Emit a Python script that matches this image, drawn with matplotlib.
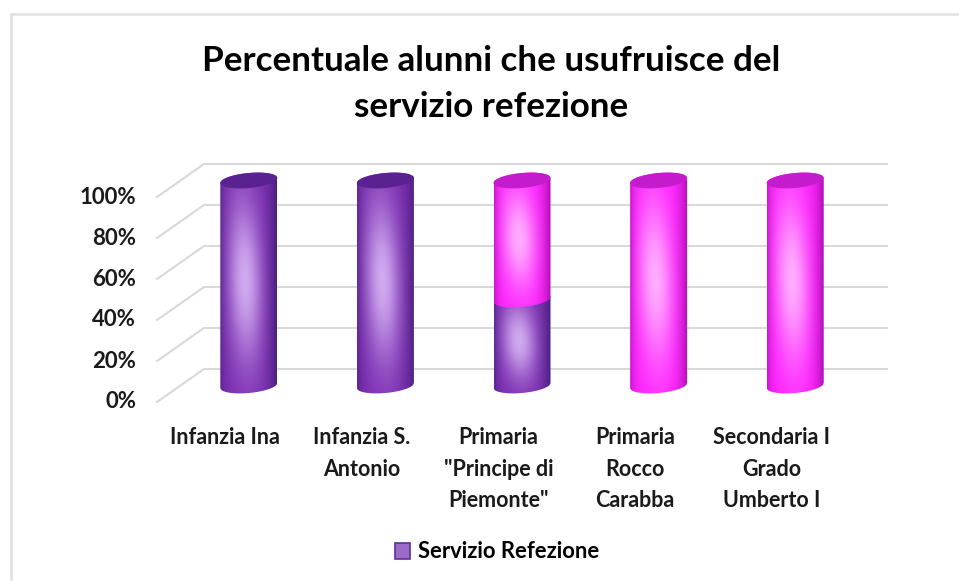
import numpy as np
import matplotlib
matplotlib.use('Agg')
import matplotlib.pyplot as plt
from matplotlib.colors import to_rgb
from matplotlib.lines import Line2D
from matplotlib.patches import Patch, Polygon

categories = ['Infanzia Ina', 'Infanzia S.\nAntonio', 'Primaria\n"Principe di\nPiemonte"',
              'Primaria\nRocco\nCarabba', 'Secondaria I\nGrado\nUmberto I']
lower_vals = [100, 100, 42, 0, 0]
upper_vals = [0, 0, 58, 100, 100]
y_ticks = [0, 20, 40, 60, 80, 100]
y_labels = ['0%', '20%', '40%', '60%', '80%', '100%']

W, H = 959, 581
plt.rcParams['font.family'] = ['Lato', 'DejaVu Sans']
plt.rcParams['font.weight'] = 'bold'

purple = dict(base='#7a2cb0', dark='#47207a', light='#d0aaf0', cap='#5a2290')
magenta = dict(base='#ff22ff', dark='#a80fae', light='#ffacff', cap='#c41ccc')
grid_col = '#d9d9d9'

fig = plt.figure(figsize=(W / 100, H / 100), dpi=100)
# axes is the front plane of the 3d box
ax = fig.add_axes([157 / W, 1 - 402 / H, 683 / W, 205 / H])
ax.set_xlim(-0.5, 4.5)
ax.set_ylim(0, 100)

px_x = 5 / 683
px_y = 100 / 205
dep_x = 47 * px_x
dep_y = 33 * px_y
rx = 28.5 * px_x
ry = 7.5 * px_y
tilt = 2.5 * px_y

for t in y_ticks:
    ax.plot([-0.5, -0.5 + dep_x, 4.5 + dep_x], [t, t + dep_y, t + dep_y],
            color=grid_col, lw=1.5, clip_on=False, zorder=1)


def shade(c, nu=90, nv=220):
    u, v = np.meshgrid(np.linspace(-1, 1, nu), np.linspace(1, 0, nv))
    du = u + 0.12
    dv = v - 0.5 + 0.08 * u
    glow = np.exp(-(du / 0.62) ** 2 - (dv / 0.36) ** 2)
    edge = np.where(u > 0, np.abs(u) ** 3.5 * 0.95, np.abs(u) ** 6 * 0.6)
    img = np.zeros((nv, nu, 3))
    for k in range(3):
        col = to_rgb(c['base'])[k] * (1 - glow) + to_rgb(c['light'])[k] * glow
        img[:, :, k] = col * (1 - edge) + to_rgb(c['dark'])[k] * edge
    return img


def draw_segment(x, y0, y1, c, z):
    u = np.linspace(-1, 1, 80)
    arc = ry * np.sqrt(1 - u ** 2)
    xs = x + u * rx
    outline = np.r_[np.c_[xs, y0 - arc + tilt * u], np.c_[xs[::-1], (y1 + arc + tilt * u)[::-1]]]
    clip = Polygon(outline, closed=True, fc='none', ec='none', clip_on=False, zorder=z)
    ax.add_patch(clip)
    im = ax.imshow(shade(c), extent=[x - rx, x + rx, y0 - ry - tilt, y1 + ry + tilt],
                   aspect='auto', zorder=z, interpolation='bilinear')
    im.set_clip_box(fig.bbox)
    im.set_clip_path(clip)


def draw_cap(x, y1, c, z):
    a = np.linspace(0, 2 * np.pi, 120)
    ax.fill(x + rx * np.cos(a), y1 + ry * np.sin(a) + tilt * np.cos(a), color=c['cap'],
            lw=0, clip_on=False, zorder=z)


for i in range(len(categories)):
    x = i + dep_x / 2
    base = dep_y / 2
    z = 3
    bottom = 0
    for val, c in ((lower_vals[i], purple), (upper_vals[i], magenta)):
        if val == 0:
            continue
        draw_segment(x, base + bottom, base + bottom + val, c, z)
        bottom += val
        last = c
        z += 1
    draw_cap(x, base + bottom, last, z)

ax.set_xlim(-0.5, 4.5)
ax.set_ylim(0, 100)
for s in ax.spines.values():
    s.set_visible(False)
ax.patch.set_visible(False)
ax.set_yticks(y_ticks, y_labels, fontsize=16, color='#1a1a1a')
ax.set_xticks(range(len(categories)), categories, fontsize=15.5, color='#1a1a1a', linespacing=1.62, va='top')
ax.tick_params(axis='y', length=0, pad=15)
ax.tick_params(axis='x', length=0, pad=18)
for lab in ax.get_yticklabels():
    lab.set_y(lab.get_position()[1])
    lab.set_verticalalignment('center')

fig.text(491 / W, 1 - 84 / H, 'Percentuale alunni che usufruisce del\nservizio refezione',
         ha='center', va='center', fontsize=25.2, color='black', linespacing=1.52)

swatch = Patch(facecolor='#9a6cc8', edgecolor='#5f2f99', lw=1.2)
fig.legend([swatch], ['Servizio Refezione'], loc='center', bbox_to_anchor=(497 / W, 1 - 552 / H),
           frameon=False, fontsize=15.8, handlelength=0.7, handleheight=0.7, handletextpad=0.35)

fig.add_artist(Line2D([11 / W, 11 / W], [0, 1 - 14 / H], color='#e2e2e2', lw=2))
fig.add_artist(Line2D([11 / W, 1], [1 - 14 / H, 1 - 14 / H], color='#e2e2e2', lw=2))

plt.savefig('out.png', dpi=100)
